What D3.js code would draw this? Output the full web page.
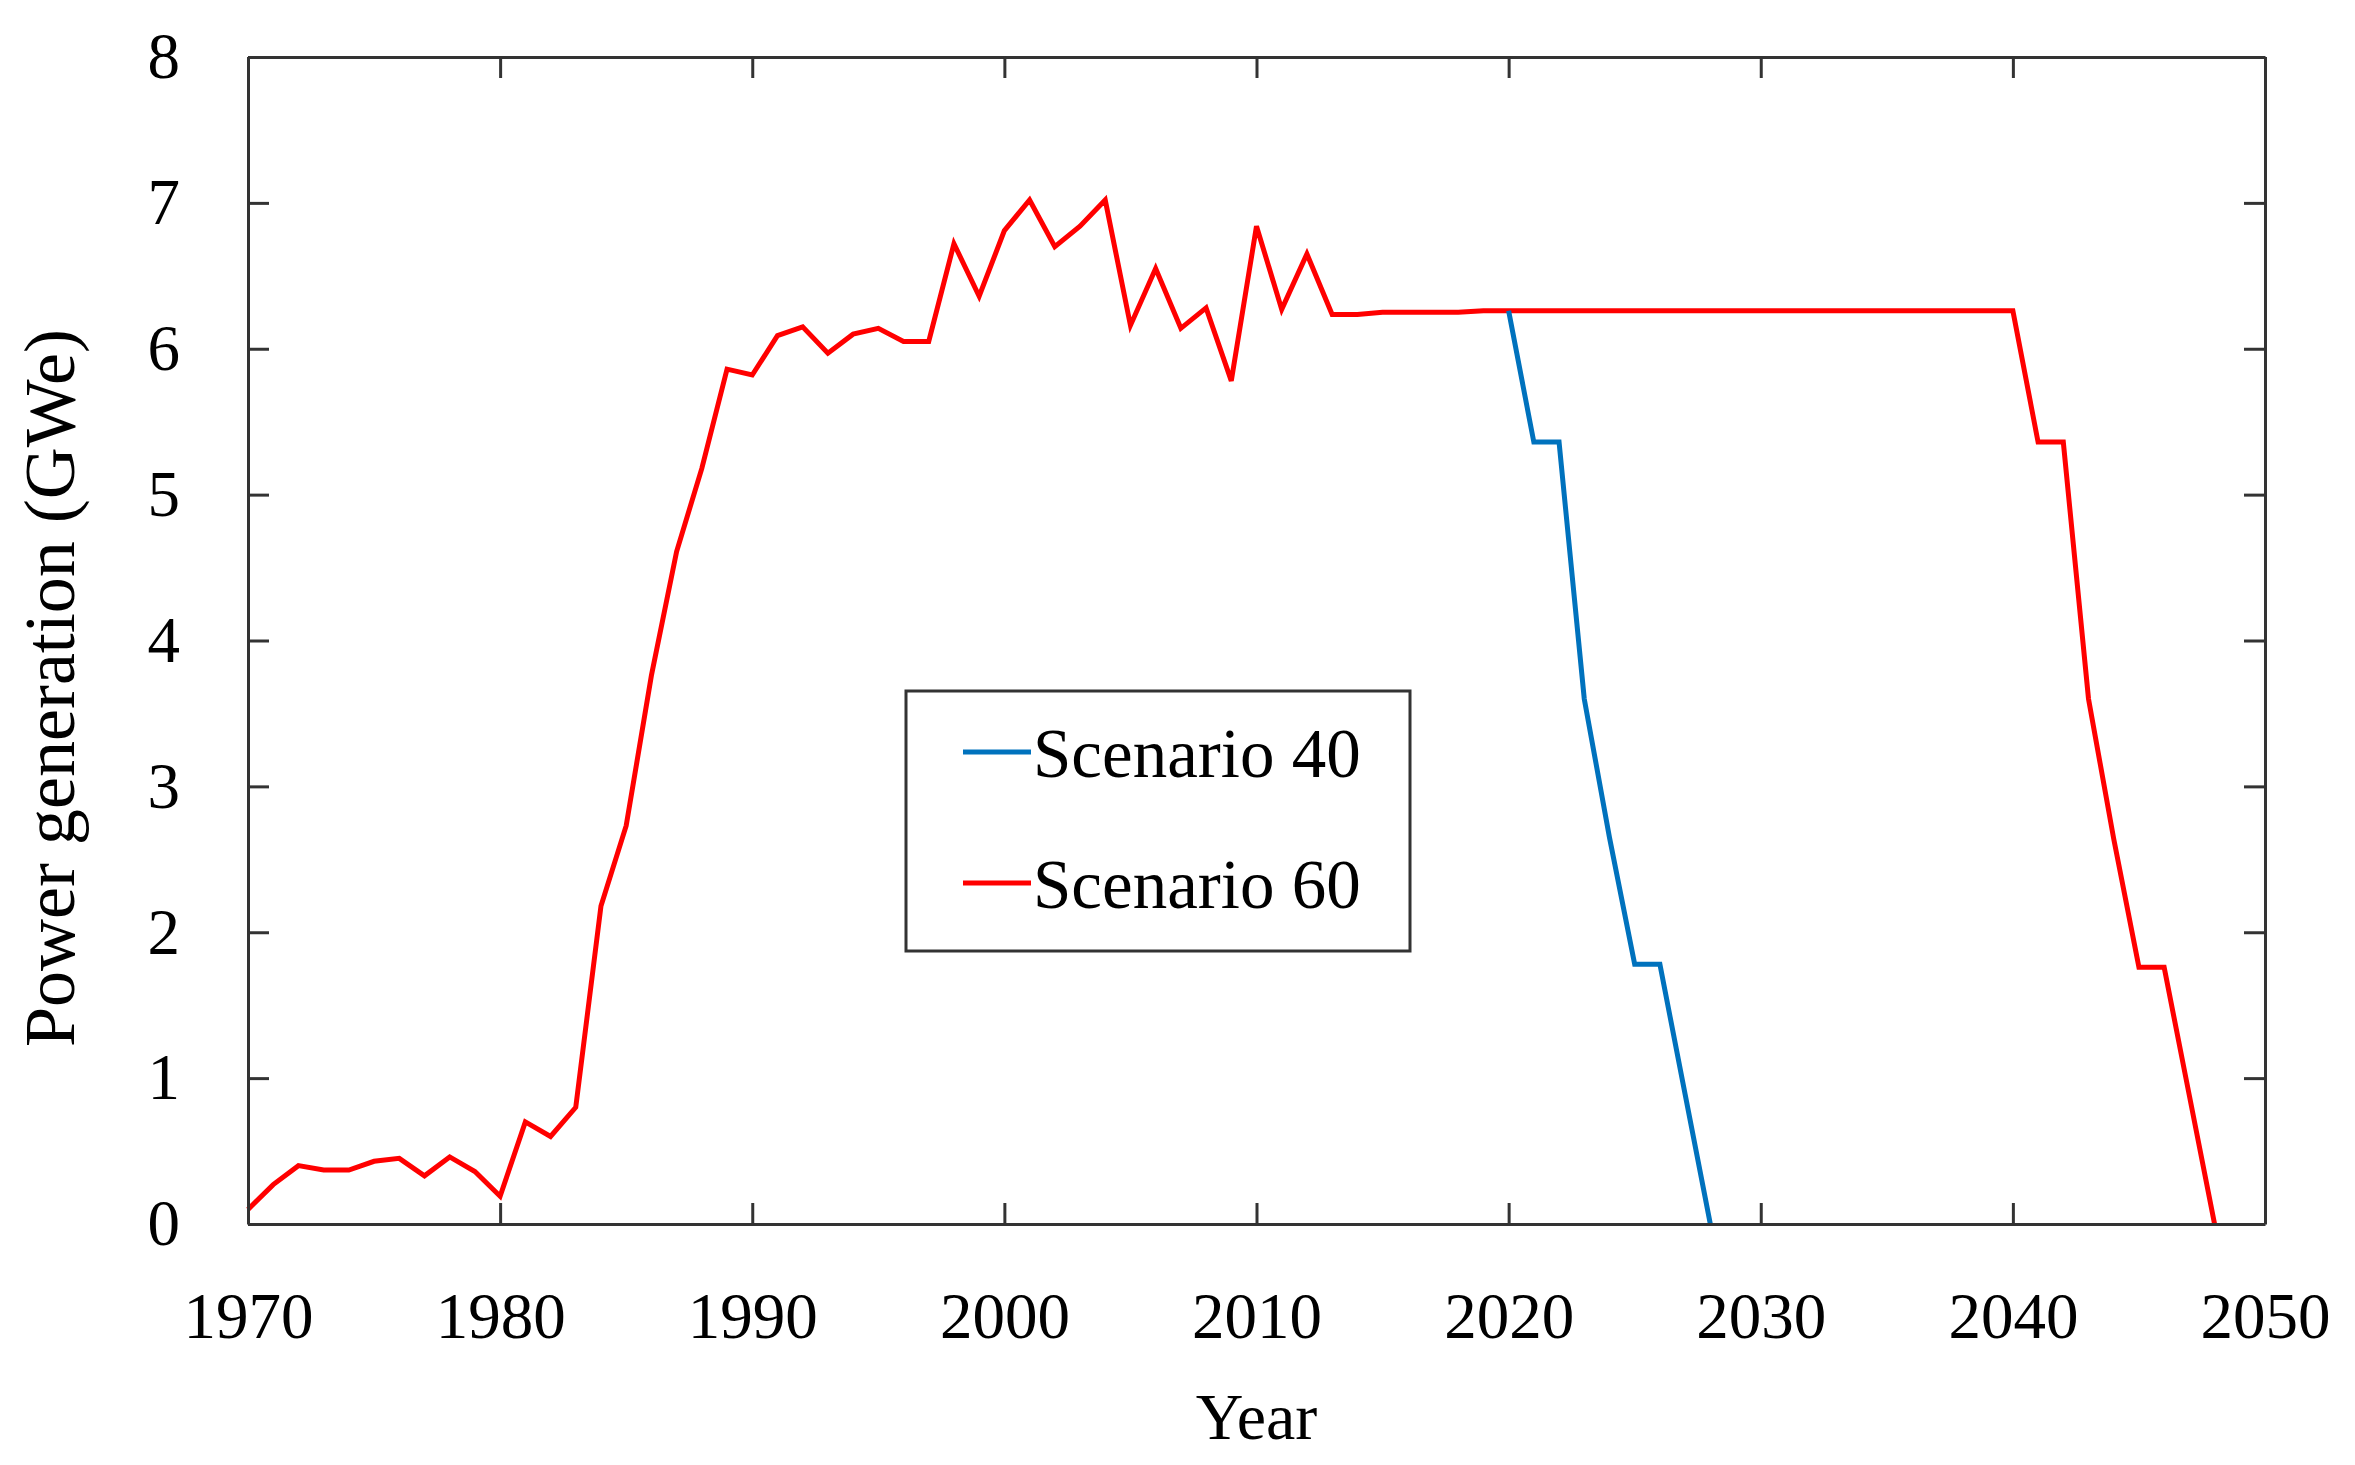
<!DOCTYPE html>
<html>
<head>
<meta charset="utf-8">
<script src="https://cdn.jsdelivr.net/npm/d3@7"></script>
<style>
    body { margin: 0; background: #fff; }
    text { font-family: "Liberation Serif", "Times New Roman", serif; fill: #000; }
</style>
</head>
<body>
<div id="chart"></div>
<script>
// Historical generation + Scenario 60 (red), 1970-2048
const yearsHist = d3.range(1970, 2049);
const scenario60 = [
    0.10, 0.27, 0.40, 0.37, 0.37, 0.43, 0.45, 0.33, 0.46, 0.36,
    0.19, 0.70, 0.60, 0.80, 2.18, 2.73, 3.76, 4.61, 5.18, 5.86,
    5.82, 6.09, 6.15, 5.97, 6.10, 6.14, 6.05, 6.05, 6.72, 6.36,
    6.81, 7.02, 6.70, 6.84, 7.02, 6.16, 6.55, 6.14, 6.28, 5.78,
    6.84, 6.27, 6.65, 6.235, 6.235, 6.25, 6.25, 6.25, 6.25, 6.26,
    6.26, 6.26, 6.26, 6.26, 6.26, 6.26, 6.26, 6.26, 6.26, 6.26,
    6.26, 6.26, 6.26, 6.26, 6.26, 6.26, 6.26, 6.26, 6.26, 6.26,
    6.26, 5.36, 5.36, 3.60, 2.64, 1.76, 1.76, 0.88, 0
];

// Scenario 40 (blue), 2020-2028
const years40 = d3.range(2020, 2029);
const scenario40 = [6.26, 5.36, 5.36, 3.60, 2.65, 1.78, 1.78, 0.89, 0];

const xTicks = [1970, 1980, 1990, 2000, 2010, 2020, 2030, 2040, 2050];
const yTicks = [0, 1, 2, 3, 4, 5, 6, 7, 8];
const legendLabels = ['Scenario 40', 'Scenario 60'];
const colors = ['#0072BD', '#FF0000'];

const svgWidth = 2355;
const svgHeight = 1465;
const margin = { top: 57, right: 90, bottom: 241, left: 248 };
const width = svgWidth - margin.left - margin.right;
const height = svgHeight - margin.top - margin.bottom;

const svgRoot = d3.select('#chart')
    .append('svg')
    .attr('width', svgWidth)
    .attr('height', svgHeight);

const svg = svgRoot.append('g')
    .attr('transform', `translate(${margin.left},${margin.top})`);

// Scales
const xScale = d3.scaleLinear().domain([1970, 2050]).range([0, width]);
const yScale = d3.scaleLinear().domain([0, 8]).range([height, 0]);

// Lines
const line = d3.line()
    .x(d => xScale(d.year))
    .y(d => yScale(d.value));

const series = [
    yearsHist.map((y, i) => ({ year: y, value: scenario60[i] })),
    years40.map((y, i) => ({ year: y, value: scenario40[i] }))
];
const seriesColors = [colors[1], colors[0]];

svg.selectAll('.series')
    .data(series)
    .enter()
    .append('path')
    .attr('class', 'series')
    .attr('d', line)
    .attr('fill', 'none')
    .attr('stroke', (d, i) => seriesColors[i])
    .attr('stroke-width', 5)
    .attr('stroke-linejoin', 'miter');

// Axes, ticks pointing inward on all four sides
const tickLen = 21;
const fontSize = 65;

const styleAxis = g => {
    g.select('.domain').attr('stroke', '#333').attr('stroke-width', 3);
    g.selectAll('.tick line').attr('stroke', '#333').attr('stroke-width', 3);
    g.selectAll('.tick text').style('font-size', fontSize + 'px').attr('fill', '#000');
};

svg.append('g')
    .attr('transform', `translate(0,${height})`)
    .call(d3.axisBottom(xScale).tickValues(xTicks).tickFormat(d3.format('d'))
        .tickSizeInner(-tickLen).tickSizeOuter(0).tickPadding(68))
    .call(styleAxis);

svg.append('g')
    .call(d3.axisTop(xScale).tickValues(xTicks).tickFormat('')
        .tickSizeInner(-tickLen).tickSizeOuter(0))
    .call(styleAxis);

svg.append('g')
    .call(d3.axisLeft(yScale).tickValues(yTicks).tickFormat(d3.format('d'))
        .tickSizeInner(-tickLen).tickSizeOuter(0).tickPadding(68))
    .call(styleAxis);

svg.append('g')
    .attr('transform', `translate(${width},0)`)
    .call(d3.axisRight(yScale).tickValues(yTicks).tickFormat('')
        .tickSizeInner(-tickLen).tickSizeOuter(0))
    .call(styleAxis);

// Axis titles
svgRoot.append('text')
    .attr('transform', 'translate(74,688) rotate(-90)')
    .attr('text-anchor', 'middle')
    .style('font-size', '72px')
    .text('Power generation (GWe)');

svgRoot.append('text')
    .attr('x', margin.left + width / 2)
    .attr('y', 1439)
    .attr('text-anchor', 'middle')
    .style('font-size', '66px')
    .text('Year');

// Legend
const legend = svgRoot.append('g')
    .attr('transform', 'translate(906,691)');

legend.append('rect')
    .attr('width', 504)
    .attr('height', 260)
    .attr('fill', '#fff')
    .attr('stroke', '#333')
    .attr('stroke-width', 3);

const items = legend.selectAll('.item')
    .data(legendLabels)
    .enter()
    .append('g')
    .attr('class', 'item')
    .attr('transform', (d, i) => `translate(0,${61 + i * 131})`);

items.append('line')
    .attr('x1', 57)
    .attr('x2', 125)
    .attr('stroke', (d, i) => colors[i])
    .attr('stroke-width', 5);

items.append('text')
    .attr('x', 127)
    .attr('y', 25)
    .style('font-size', '69px')
    .text(d => d);
</script>
</body>
</html>
